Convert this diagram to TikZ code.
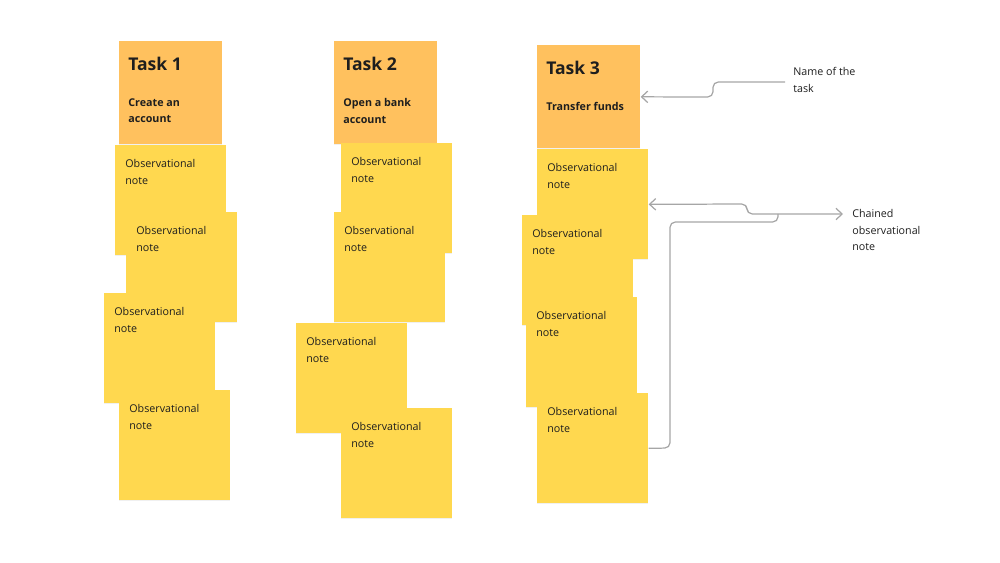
\documentclass[tikz,border=0pt]{standalone}
\usepackage{fontspec}
\setmainfont{Open Sans}
\usetikzlibrary{arrows.meta}
\usetikzlibrary{shadows}

\definecolor{taskorange}{HTML}{FFC15E}
\definecolor{noteyellow}{HTML}{FFD84F}
\definecolor{inkdark}{HTML}{1E1E1E}
\definecolor{linegray}{HTML}{A6A6A6}

\begin{document}
\begin{tikzpicture}[x=0.02cm,y=-0.02cm]
            \tikzstyle{task}=[rectangle,fill=taskorange,anchor=north west,inner sep=0pt,minimum width=2.06cm,minimum height=2.06cm,drop shadow={shadow xshift=0pt,shadow yshift=-0.6pt,opacity=0.12}]
            \tikzstyle{note}=[rectangle,fill=noteyellow,anchor=north west,inner sep=0pt,minimum width=2.22cm,minimum height=2.2cm,drop shadow={shadow xshift=0pt,shadow yshift=-0.6pt,opacity=0.12}]
            \tikzstyle{title}=[anchor=north west,inner sep=0pt,text=inkdark,font=\bfseries\fontsize{10}{12}\selectfont]
            \tikzstyle{subtitle}=[anchor=north west,inner sep=0pt,align=left,text=inkdark,font=\bfseries\fontsize{6.1}{9.6}\selectfont]
            \tikzstyle{notetext}=[anchor=north west,inner sep=0pt,align=left,text=inkdark,font=\fontsize{6.1}{9.4}\selectfont]
            \tikzstyle{side}=[anchor=north west,inner sep=0pt,align=left,text=inkdark,font=\fontsize{6.1}{9.4}\selectfont]
            \tikzstyle{edge}=[draw=linegray,line width=0.7pt,rounded corners=3pt]

            \def\obs{Observational\\note}

            \useasboundingbox (0,0) rectangle (1000,563);

            % column 1
            \node[task] (t1) at (119,41) {};
            \node[note] (n1a) at (115,145) {};
            \node[note] (n1b) at (126,212) {};
            \node[note] (n1c) at (104,293) {};
            \node[note] (n1d) at (119,390) {};

            % column 2
            \node[task] (t2) at (334,41) {};
            \node[note] (n2a) at (341,143) {};
            \node[note] (n2b) at (334,212) {};
            \node[note] (n2c) at (296,323) {};
            \node[note] (n2d) at (341,408) {};

            % column 3
            \node[task] (t3) at (537,45) {};
            \node[note] (n3a) at (537,149) {};
            \node[note] (n3b) at (522,215) {};
            \node[note] (n3c) at (526,297) {};
            \node[note] (n3d) at (537,393) {};

            % texts
            \node[title] (t1h) at ([shift={(9,16)}]t1.north west) {Task 1};
            \node[subtitle] (t1s) at ([shift={(9,57)}]t1.north west) {Create an\\account};
            \node[title] (t2h) at ([shift={(9,16)}]t2.north west) {Task 2};
            \node[subtitle] (t2s) at ([shift={(9,57)}]t2.north west) {Open a bank\\account};
            \node[title] (t3h) at ([shift={(9,16)}]t3.north west) {Task 3};
            \node[subtitle] (t3s) at ([shift={(9,57)}]t3.north west) {Transfer funds};

            \foreach \n in {n1a,n1b,n1c,n1d,n2a,n2b,n2c,n2d,n3a,n3b,n3c,n3d}
                \node[notetext] at ([shift={(10,14)}]\n.north west) {\obs};

            % side labels
            \node[side] (lname) at (793,67) {Name of the\\task};
            \node[side] (lchain) at (852,209) {Chained\\observational\\note};

            \path[edge,{Straight Barb[length=3.5pt,width=6.5pt]}-] (t3.east) -- (713,97) -- (713,82) -- ([shift={(-8,15)}]lname.north west);
            \path[edge,{Straight Barb[length=3.5pt,width=6.5pt]}-{Straight Barb[length=3.5pt,width=6.5pt]}] (n3a.east) -- (747,204) -- (747,214) -- ([shift={(-9,5)}]lchain.north west);
            \path[edge] (n3d.east) -- (670,448) -- (670,222) -- (778,222) -- (778,214);
        \end{tikzpicture}
\end{document}
